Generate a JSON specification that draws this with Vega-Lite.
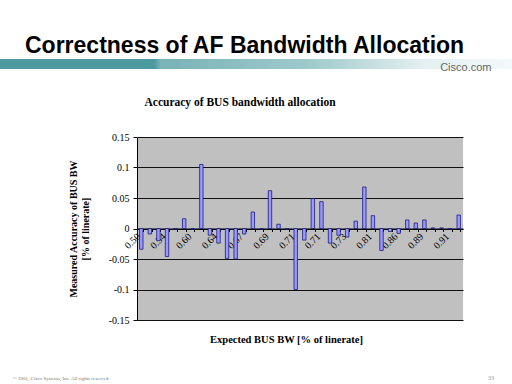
{
  "$schema": "https://vega.github.io/schema/vega-lite/v6.json",
  "background": "white",
  "padding": {"left": 0, "top": 35, "right": 0, "bottom": 0},
  "bounds": "flush",
  "center": true,
  "spacing": 68,
  "config": {"view": {"stroke": null}, "font": "Liberation Serif"},
  "vconcat": [
    {
      "width": 600,
      "height": 10,
      "title": {"text": "Correctness of AF Bandwidth Allocation", "anchor": "start", "frame": "group", "dx": 25, "offset": 1, "font": "Liberation Sans", "fontSize": 23, "fontWeight": "bold", "color": "black"},
      "data": {"values": [{"band": "header"}]},
      "mark": {"type": "rect", "fill": {"gradient": "linear", "x1": 0, "x2": 1, "y1": 0, "y2": 0, "stops": [
        {"offset": 0, "color": "#4E9AA0"},
        {"offset": 0.258, "color": "#4E9AA0"},
        {"offset": 0.267, "color": "#78B3B7"},
        {"offset": 0.512, "color": "#9FC9CC"},
        {"offset": 0.708, "color": "#E4F0F1"},
        {"offset": 0.853, "color": "#F4F9F9"},
        {"offset": 1, "color": "#FFFFFF"}
      ]}},
      "encoding": {
        "x": {"field": "band", "type": "nominal", "scale": {"paddingInner": 0, "paddingOuter": 0},
          "axis": {"title": "Cisco.com", "labels": false, "ticks": false, "domain": false, "titleX": 491, "titleY": 1.5, "titleAlign": "right", "titleBaseline": "alphabetic", "titleFont": "Liberation Sans", "titleFontSize": 11, "titleFontWeight": "normal", "titleColor": "#666666"}}
      }
    },
    {
      "width": 326,
      "height": 183,
      "view": {"fill": "#C0C0C0", "stroke": null},
      "title": {"text": "Accuracy of BUS bandwidth allocation", "anchor": "middle", "frame": "group", "dx": -60, "offset": 24, "font": "Liberation Serif", "fontSize": 11.5, "fontWeight": "bold", "color": "black"},
      "data": {"values": [
        {"run": "01 0.50", "accuracy": -0.034},
        {"run": "02", "accuracy": -0.009},
        {"run": "03", "accuracy": -0.020},
        {"run": "04 0.54", "accuracy": -0.046},
        {"run": "05", "accuracy": -0.001},
        {"run": "06", "accuracy": 0.016},
        {"run": "07 0.60", "accuracy": -0.001},
        {"run": "08", "accuracy": 0.105},
        {"run": "09", "accuracy": -0.011},
        {"run": "10 0.64", "accuracy": -0.024},
        {"run": "11", "accuracy": -0.049},
        {"run": "12", "accuracy": -0.050},
        {"run": "13 0.67", "accuracy": -0.009},
        {"run": "14", "accuracy": 0.027},
        {"run": "15", "accuracy": -0.001},
        {"run": "16 0.69", "accuracy": 0.062},
        {"run": "17", "accuracy": 0.007},
        {"run": "18", "accuracy": -0.001},
        {"run": "19 0.71", "accuracy": -0.100},
        {"run": "20", "accuracy": -0.019},
        {"run": "21", "accuracy": 0.049},
        {"run": "22 0.71", "accuracy": 0.044},
        {"run": "23", "accuracy": -0.024},
        {"run": "24", "accuracy": -0.011},
        {"run": "25 0.73", "accuracy": -0.014},
        {"run": "26", "accuracy": 0.012},
        {"run": "27", "accuracy": 0.068},
        {"run": "28 0.81", "accuracy": 0.021},
        {"run": "29", "accuracy": -0.036},
        {"run": "30", "accuracy": -0.005},
        {"run": "31 0.86", "accuracy": -0.008},
        {"run": "32", "accuracy": 0.014},
        {"run": "33", "accuracy": 0.009},
        {"run": "34 0.89", "accuracy": 0.014},
        {"run": "35", "accuracy": 0.001},
        {"run": "36", "accuracy": 0.001},
        {"run": "37 0.91", "accuracy": -0.001},
        {"run": "38", "accuracy": 0.022}
      ]},
      "mark": {"type": "bar", "fill": "#9999FF", "stroke": "#1A1A80", "strokeWidth": 0.8},
      "encoding": {
        "x": {"field": "run", "type": "ordinal", "sort": null,
          "scale": {"paddingInner": 0.6, "paddingOuter": 0.3},
          "axis": {"title": "Expected BUS BW [% of linerate]", "offset": -91.5, "labelExpr": "substring(datum.label, 3)", "labelAngle": -45, "labelAlign": "right", "labelBaseline": "middle", "labelPadding": 3, "labelOffset": -3, "labelFont": "Liberation Serif", "labelFontSize": 10, "labelColor": "black", "labelOverlap": false, "tickBand": "extent", "tickSize": 3, "tickColor": "black", "domainColor": "black", "grid": false,
            "titleFont": "Liberation Serif", "titleFontSize": 10.5, "titleFontWeight": "bold", "titleColor": "black", "titleX": 149, "titleY": 114, "titleAlign": "center", "titleBaseline": "alphabetic"}},
        "y": {"field": "accuracy", "type": "quantitative",
          "scale": {"domain": [-0.15, 0.15], "nice": false, "zero": false},
          "axis": {"title": ["Measured Accuracy of BUS BW", "[% of linerate]"], "values": [-0.15, -0.1, -0.05, 0, 0.05, 0.1, 0.15], "labelExpr": "'' + datum.value", "labelFont": "Liberation Serif", "labelFontSize": 10, "labelColor": "black", "labelPadding": 4, "tickSize": 4, "tickColor": "black", "domainColor": "black", "grid": true, "gridColor": "#111111", "gridWidth": 1,
            "titleFont": "Liberation Serif", "titleFontSize": 10, "titleFontWeight": "bold", "titleColor": "black", "titleLineHeight": 12, "titlePadding": 18}}
      }
    },
    {
      "width": 600,
      "height": 16,
      "data": {"values": [
        {"side": "left", "note": "© 2001, Cisco Systems, Inc. All rights reserved."},
        {"side": "right", "note": "33"}
      ]},
      "layer": [
        {
          "transform": [{"filter": "datum.side == 'left'"}],
          "mark": {"type": "text", "align": "left", "baseline": "middle", "dx": 13, "dy": -10, "font": "Liberation Serif", "fontSize": 5, "color": "#777777"},
          "encoding": {"text": {"field": "note"}, "x": {"value": 0}, "y": {"value": 0}}
        },
        {
          "transform": [{"filter": "datum.side == 'right'"}],
          "mark": {"type": "text", "align": "right", "baseline": "middle", "dx": -106, "dy": -10, "font": "Liberation Serif", "fontSize": 6, "color": "#999999"},
          "encoding": {"text": {"field": "note"}, "x": {"value": "width"}, "y": {"value": 0}}
        }
      ]
    }
  ]
}
